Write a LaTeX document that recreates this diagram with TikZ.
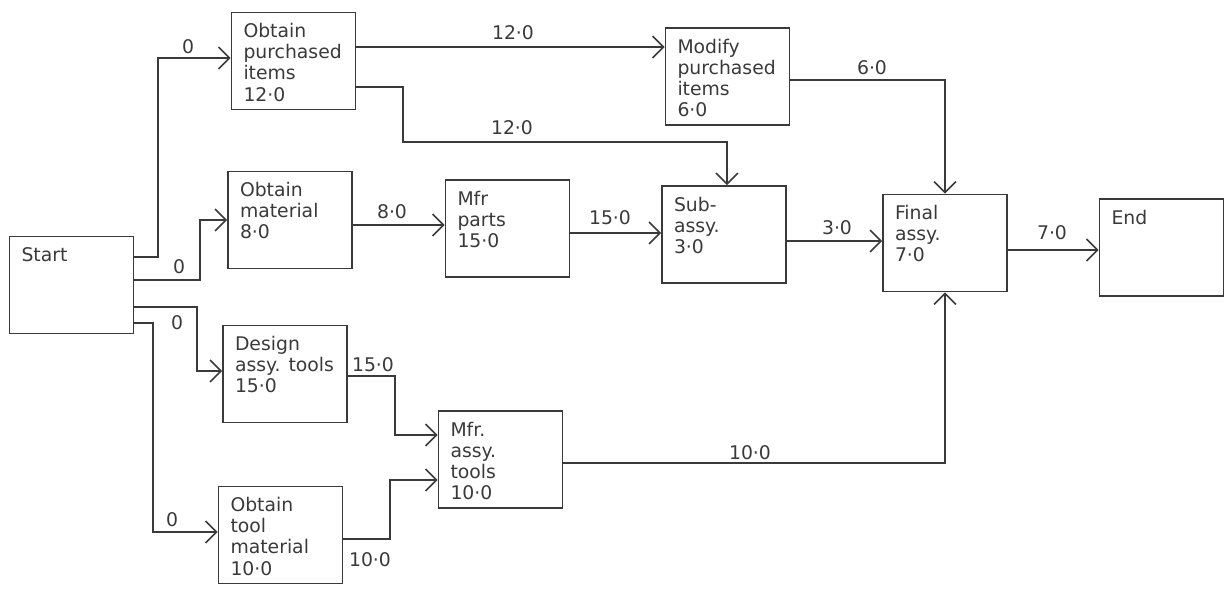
\documentclass[tikz,border=0pt]{standalone}
\usepackage{fontspec}
\setmainfont{DejaVu Sans}
\usetikzlibrary{arrows.meta}
\definecolor{ink}{HTML}{3A3A3A}
\newcommand{\acttext}[1]{\parbox[c][1.5cm][t]{2cm}{\raggedright #1}}

\begin{document}
\begin{tikzpicture}[x=0.02cm,y=-0.02cm,line width=0.9pt,draw=ink,text=ink,
        >={Straight Barb[length=2.2mm,width=4.4mm]},
        act/.style={draw,inner xsep=0.24cm,inner ysep=0.22cm,font=\fontsize{10.7}{12}\selectfont},
        lbl/.style={font=\fontsize{10.7}{12}\selectfont,inner sep=1pt}]
        \useasboundingbox (0,0) rectangle (1225,589);
        % activities
        \node[act] (start) at (71.5,285) {\acttext{Start}};
        \node[act] (purch) at (293.5,61) {\acttext{Obtain\\purchased\\items\\12·0}};
        \node[act] (modify) at (727.5,76.5) {\acttext{Modify\\purchased\\items\\6·0}};
        \node[act] (mat) at (290,220) {\acttext{Obtain\\material\\8·0}};
        \node[act] (parts) at (507.5,228.5) {\acttext{Mfr\\parts\\15·0}};
        \node[act] (sub) at (724,234.5) {\acttext{Sub-\\assy.\\3·0}};
        \node[act] (final) at (945,243) {\acttext{Final\\assy.\\7·0}};
        \node[act] (finish) at (1161.5,247.5) {\acttext{End}};
        \node[act] (design) at (285,374) {\acttext{Design\\assy. tools\\15·0}};
        \node[act] (mtools) at (500.5,459.5) {\acttext{Mfr.\\assy.\\tools\\10·0}};
        \node[act] (toolmat) at (280.5,535) {\acttext{Obtain\\tool\\material\\10·0}};
        % links
        \draw[->] (start.east |- 0,257) -| (158,58) -- (purch.west |- 0,58);
        \draw[->] (start.east |- 0,280) -| (200,220) -- (mat.west |- 0,220);
        \draw[->] (start.east |- 0,307) -| (197,371) -- (design.west |- 0,371);
        \draw[->] (start.east |- 0,323) -| (153,532) -- (toolmat.west |- 0,532);
        \draw[->] (purch.east |- 0,47) -- (modify.west |- 0,47);
        \draw[->] (purch.east |- 0,87) -| (403,142) -| (sub.north -| 727,0);
        \draw[->] (mat.east |- 0,225) -- (parts.west |- 0,225);
        \draw[->] (parts.east |- 0,233) -- (sub.west |- 0,233);
        \draw[->] (modify.east |- 0,80) -| (final.north);
        \draw[->] (sub.east |- 0,241) -- (final.west |- 0,241);
        \draw[->] (final.east |- 0,250) -- (finish.west |- 0,250);
        \draw[->] (design.east |- 0,376) -| (395,435) -- (mtools.west |- 0,435);
        \draw[->] (toolmat.east |- 0,539) -| (390,480) -- (mtools.west |- 0,480);
        \draw[->] (mtools.east |- 0,463) -| (final.south);
        % durations
        \node[lbl] (d1) at (188,47) {0};
        \node[lbl] (d2) at (179,267) {0};
        \node[lbl] (d3) at (177,323) {0};
        \node[lbl] (d4) at (172,520) {0};
        \node[lbl] (d5) at (513,33) {12·0};
        \node[lbl] (d6) at (512,128) {12·0};
        \node[lbl] (d7) at (392,212) {8·0};
        \node[lbl] (d8) at (610,218) {15·0};
        \node[lbl] (d9) at (872,68) {6·0};
        \node[lbl] (d10) at (837,228) {3·0};
        \node[lbl] (d11) at (1052,233) {7·0};
        \node[lbl] (d12) at (373,365) {15·0};
        \node[lbl] (d13) at (370,560) {10·0};
        \node[lbl] (d14) at (750,453) {10·0};
    \end{tikzpicture}
\end{document}
